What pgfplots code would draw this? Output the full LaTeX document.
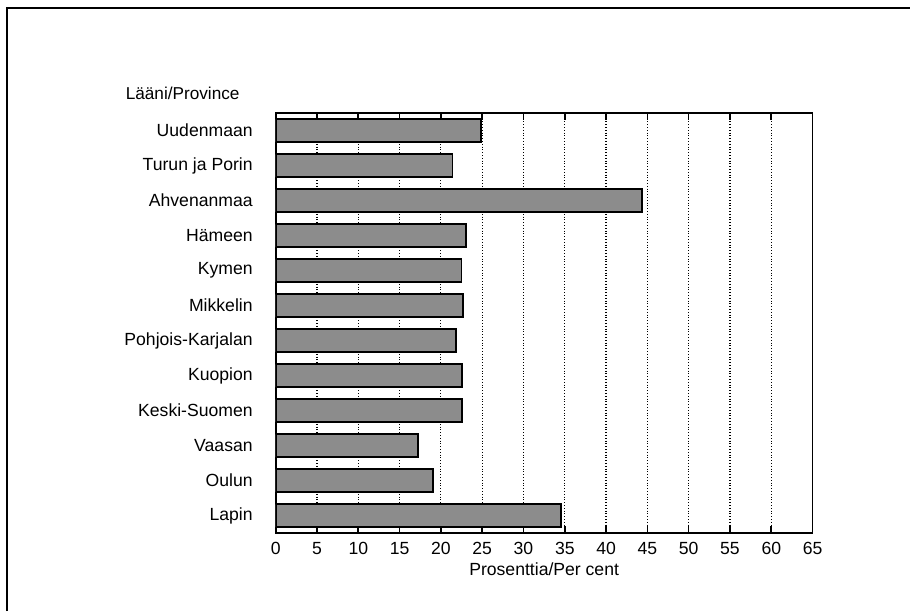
\documentclass[border=0pt]{standalone}
\usepackage{pgfplots}
\pgfplotsset{compat=1.18}
\usepackage{fontspec}
\setmainfont{Liberation Sans}

\begin{document}
\begin{tikzpicture}[font=\fontsize{8.8}{10}\selectfont]
% bounding box and frame of the original page (1px = 0.5pt)
\path[use as bounding box] (-137.85pt,-39pt) rectangle (317.15pt,266.5pt);
\draw[line width=0.9pt] (-134.35pt,-39pt) -- (-134.35pt,262.5pt) -- (317.15pt,262.5pt);
\begin{axis}[
  at={(0pt,0pt)}, anchor=south west,
  scale only axis,
  width=268.45pt, height=210pt,
  xbar,
  bar width=11.25pt,
  xmin=0, xmax=65,
  ymin=-0.5, ymax=11.5,
  y dir=reverse,
  xtick={0,5,...,65},
  ytick={0,...,11},
  yticklabels={Uudenmaan,Turun ja Porin,Ahvenanmaa,Hämeen,Kymen,Mikkelin,Pohjois-Karjalan,Kuopion,Keski-Suomen,Vaasan,Oulun,Lapin},
  ytick style={draw=none},
  xtick style={black, line width=0.8pt},
  major tick length=3.5pt,
  tick align=inside,
  xmajorgrids,
  grid style={black, densely dotted, line width=0.6pt},
  axis line style={line width=0.9pt},
  yticklabel style={anchor=east, xshift=-8pt},
  xticklabel style={yshift=-1pt},
  xlabel={Prosenttia/Per cent},
  xlabel style={yshift=3pt},
  /pgf/number format/assume math mode=true,
]
\addplot+[draw=black, line width=0.9pt, fill=black!45] coordinates {
  (24.9,0) (21.4,1) (44.3,2) (23.0,3) (22.5,4) (22.7,5)
  (21.8,6) (22.6,7) (22.6,8) (17.2,9) (19.0,10) (34.5,11)
};
\end{axis}
\node[anchor=west, font=\fontsize{8.6}{10}\selectfont] at (-78.5pt,220pt) {Lääni/Province};
\end{tikzpicture}
\end{document}
